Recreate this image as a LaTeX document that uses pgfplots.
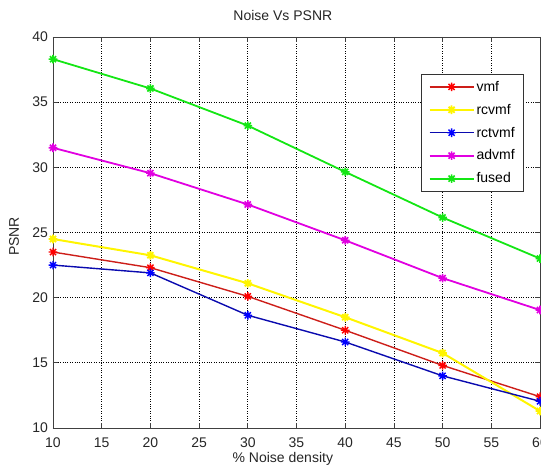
\documentclass[border=0pt]{standalone}
\usepackage{fontspec}
\setmainfont{Liberation Sans}
\usepackage{pgfplots}
\pgfplotsset{compat=1.18}
\pgfdeclareplotmark{mstar}{%
 \pgfpathmoveto{\pgfqpoint{\pgfplotmarksize}{0pt}}\pgfpathlineto{\pgfqpoint{-\pgfplotmarksize}{0pt}}%
 \pgfpathmoveto{\pgfqpoint{0pt}{\pgfplotmarksize}}\pgfpathlineto{\pgfqpoint{0pt}{-\pgfplotmarksize}}%
 \pgfpathmoveto{\pgfqpoint{0.707\pgfplotmarksize}{0.707\pgfplotmarksize}}\pgfpathlineto{\pgfqpoint{-0.707\pgfplotmarksize}{-0.707\pgfplotmarksize}}%
 \pgfpathmoveto{\pgfqpoint{0.707\pgfplotmarksize}{-0.707\pgfplotmarksize}}\pgfpathlineto{\pgfqpoint{-0.707\pgfplotmarksize}{0.707\pgfplotmarksize}}%
 \pgfusepathqstroke}
\definecolor{vmfline}{RGB}{205,30,25}
\definecolor{rctline}{RGB}{10,10,175}
\definecolor{ylw}{RGB}{255,245,0}
\definecolor{mag}{RGB}{225,0,225}
\definecolor{grn}{RGB}{20,230,20}
\begin{document}
\begin{tikzpicture}
\begin{axis}[
  scale only axis, width=487pt, height=391pt,
  xmin=10, xmax=60, ymin=10, ymax=40,
  xtick={10,15,...,60}, ytick={10,15,...,40},
  tick align=inside, major tick length=5pt,
  xtick pos=both, ytick pos=both,
  axis line style={black!75, line width=0.8pt},
  tick style={black!75, line width=0.8pt},
  grid=major, grid style={dotted, black, line width=0.7pt},
  /pgf/number format/assume math mode=true,
  every tick label/.append style={font=\fontsize{14}{16}\selectfont, text=black!85},
  xticklabel style={anchor=base, yshift=-19.5pt},
  yticklabel style={xshift=-1.5pt},
  title={Noise Vs PSNR},
  title style={at={(axis description cs:0.472,1.0256)}, anchor=base, font=\fontsize{14}{16}\selectfont, text=black!85},
  xlabel={\% Noise density},
  xlabel style={at={(axis description cs:0.472,-0.087)}, anchor=base, font=\fontsize{14}{16}\selectfont, text=black!85},
  ylabel={PSNR},
  ylabel style={at={(axis description cs:-0.08,0.49)}, anchor=center, font=\fontsize{14}{16}\selectfont, text=black!85},
  legend style={at={(axis description cs:0.756,0.905)}, anchor=north west,
    draw=black!80, line width=0.8pt, fill=white, font=\fontsize{14}{15}\selectfont,
    row sep=7.3pt, inner xsep=7pt, inner ysep=4.5pt},
  legend cell align=left,
  legend image code/.code={\draw[mark repeat=2,mark phase=2,#1] plot coordinates {(0pt,0pt) (22pt,0pt) (44pt,0pt)};},
  mark size=4.3pt,
]
\addplot[vmfline, line width=1.4pt, mark=mstar, mark options={red, line width=1.4pt}] coordinates {(10,23.5) (20,22.3) (30,20.1) (40,17.5) (50,14.8) (60,12.4)};
\addlegendentry{vmf}
\addplot[ylw, line width=2pt, mark=mstar, mark options={ylw, line width=1.8pt}] coordinates {(10,24.5) (20,23.25) (30,21.1) (40,18.5) (50,15.75) (60,11.3)};
\addlegendentry{rcvmf}
\addplot[rctline, line width=1.4pt, mark=mstar, mark options={blue, line width=1.4pt}] coordinates {(10,22.5) (20,21.9) (30,18.65) (40,16.6) (50,14.0) (60,12.05)};
\addlegendentry{rctvmf}
\addplot[mag, line width=1.8pt, mark=mstar, mark options={mag, line width=1.6pt}] coordinates {(10,31.5) (20,29.55) (30,27.15) (40,24.4) (50,21.5) (60,19.05)};
\addlegendentry{advmf}
\addplot[grn, line width=1.8pt, mark=mstar, mark options={grn, line width=1.6pt}] coordinates {(10,38.3) (20,36.05) (30,33.2) (40,29.65) (50,26.15) (60,23.0)};
\addlegendentry{fused}
\end{axis}
\pgfresetboundingbox
\useasboundingbox (-53pt,-38pt) rectangle (488pt,428pt);
\end{tikzpicture}
\end{document}
